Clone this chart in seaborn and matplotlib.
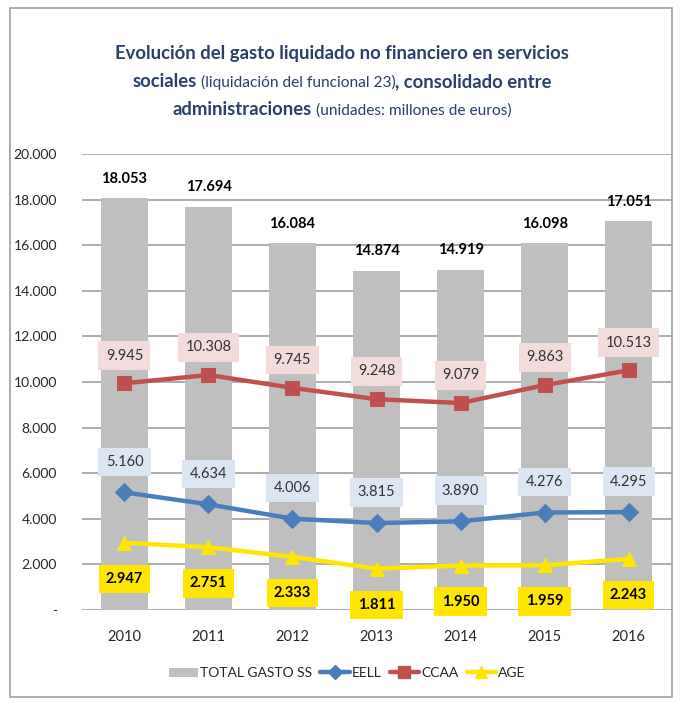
import matplotlib
matplotlib.use("Agg")
import matplotlib.pyplot as plt
from matplotlib.lines import Line2D
from matplotlib.patches import Patch, Rectangle
import numpy as np
import pandas as pd
import seaborn as sns

# chart data (millones de euros)
years = ["2010", "2011", "2012", "2013", "2014", "2015", "2016"]
total_ss = [18053, 17694, 16084, 14874, 14919, 16098, 17051]
ccaa = [9945, 10308, 9745, 9248, 9079, 9863, 10513]
eell = [5160, 4634, 4006, 3815, 3890, 4276, 4295]
age = [2947, 2751, 2333, 1811, 1950, 1959, 2243]
y_ticks = [0, 2000, 4000, 6000, 8000, 10000, 12000, 14000, 16000, 18000, 20000]

GREY = "#BFBFBF"
BLUE = "#4A7EBB"
RED = "#C0504D"
YELLOW = "#FFE600"
NAVY = "#2B3F6C"

sns.set_theme(style="white")
plt.rcParams["font.family"] = ["Lato", "DejaVu Sans"]


def fmt(v):
    # spanish thousands separator
    return f"{v:,}".replace(",", ".")


df = pd.DataFrame({"year": years, "total": total_ss})
pos = np.arange(len(years))

fig = plt.figure(figsize=(6.83, 7.08), dpi=100)
ax = fig.add_axes([0.12, 0.1384, 0.864, 0.644])

sns.barplot(data=df, x="year", y="total", color=GREY, width=0.57,
            saturation=1, ax=ax, zorder=2, edgecolor="none")

sns.lineplot(x=pos, y=eell, color=BLUE, lw=3.2, marker="D", markersize=9,
             markeredgecolor=BLUE, ax=ax, zorder=4)
sns.lineplot(x=pos, y=ccaa, color=RED, lw=3.2, marker="s", markersize=10,
             markeredgecolor=RED, ax=ax, zorder=4)
sns.lineplot(x=pos, y=age, color=YELLOW, lw=3.2, marker="^", markersize=10,
             markeredgecolor=YELLOW, ax=ax, zorder=4)

ax.set_ylim(0, 20000)
ax.set_xlim(-0.506, 6.518)
ax.set_yticks(y_ticks)
ax.set_yticklabels(["-"] + [fmt(t) for t in y_ticks[1:]])
ax.grid(axis="y", color="#A6A6A6", lw=1.3)
ax.set_axisbelow(True)
ax.tick_params(axis="y", length=0, pad=18, labelsize=10, labelcolor="#262626")
ax.tick_params(axis="x", length=0, pad=14.5, labelsize=10.5, labelcolor="#262626")
ax.set_xlabel("")
ax.set_ylabel("")
sns.despine(ax=ax, left=True, bottom=True)

# value labels
for i in range(len(years)):
    ax.annotate(fmt(total_ss[i]), (i, total_ss[i]), xytext=(0, 14),
                textcoords="offset points", ha="center", va="center",
                fontsize=10.5, fontweight="bold", color="black", zorder=5)
    ax.annotate(fmt(ccaa[i]), (i, ccaa[i]), xytext=(0, 20),
                textcoords="offset points", ha="center", va="center",
                fontsize=10.5, color="#333333", zorder=5,
                bbox=dict(boxstyle="square,pad=0.5", fc="#F2DCDB", ec="none"))
    ax.annotate(fmt(eell[i]), (i, eell[i]), xytext=(0, 22),
                textcoords="offset points", ha="center", va="center",
                fontsize=10.5, color="#333333", zorder=5,
                bbox=dict(boxstyle="square,pad=0.5", fc="#DCE6F2", ec="none"))
    ax.annotate(fmt(age[i]), (i, age[i]), xytext=(0, -26),
                textcoords="offset points", ha="center", va="center",
                fontsize=10.5, fontweight="bold", color="black", zorder=5,
                annotation_clip=False,
                bbox=dict(boxstyle="square,pad=0.5", fc=YELLOW, ec="none"))

# legend
handles = [
    Patch(facecolor=GREY, edgecolor="none", label="TOTAL GASTO SS"),
    Line2D([], [], color=BLUE, lw=3.2, marker="D", markersize=7, label="EELL"),
    Line2D([], [], color=RED, lw=3.2, marker="s", markersize=8, label="CCAA"),
    Line2D([], [], color=YELLOW, lw=3.2, marker="^", markersize=8, label="AGE"),
]
fig.legend(handles=handles, loc="center", bbox_to_anchor=(0.508, 0.049),
           ncol=4, frameon=False, fontsize=10, handlelength=2.1,
           handletextpad=0.15, columnspacing=0.6, labelcolor="#262626")

# title with mixed weights, each line centred
title_lines = [
    [("Evolución del gasto liquidado no financiero en servicios", "bold", 13.3)],
    [("sociales", "bold", 13.3), (" (liquidación del funcional 23)", "normal", 11.2),
     (", consolidado entre", "bold", 13.3)],
    [("administraciones", "bold", 13.3), (" (unidades: millones de euros)", "normal", 11.2)],
]
title_y = [649, 621, 593]
renderer = fig.canvas.get_renderer()
for parts, yy in zip(title_lines, title_y):
    texts = []
    for s, w, sz in parts:
        t = fig.text(0, yy / 708, s, fontsize=sz, fontweight=w, color=NAVY,
                     va="baseline", ha="left")
        texts.append(t)
    widths = [t.get_window_extent(renderer).width for t in texts]
    x0 = 342 - sum(widths) / 2
    for t, wd in zip(texts, widths):
        t.set_x(x0 / 683)
        x0 += wd

# outer frame
fig.add_artist(Rectangle((10 / 683, 11 / 708), 662 / 683, 689 / 708,
                         transform=fig.transFigure, fill=False,
                         ec="#A0A0A0", lw=1.2))

fig.savefig("out.png", dpi=100)
